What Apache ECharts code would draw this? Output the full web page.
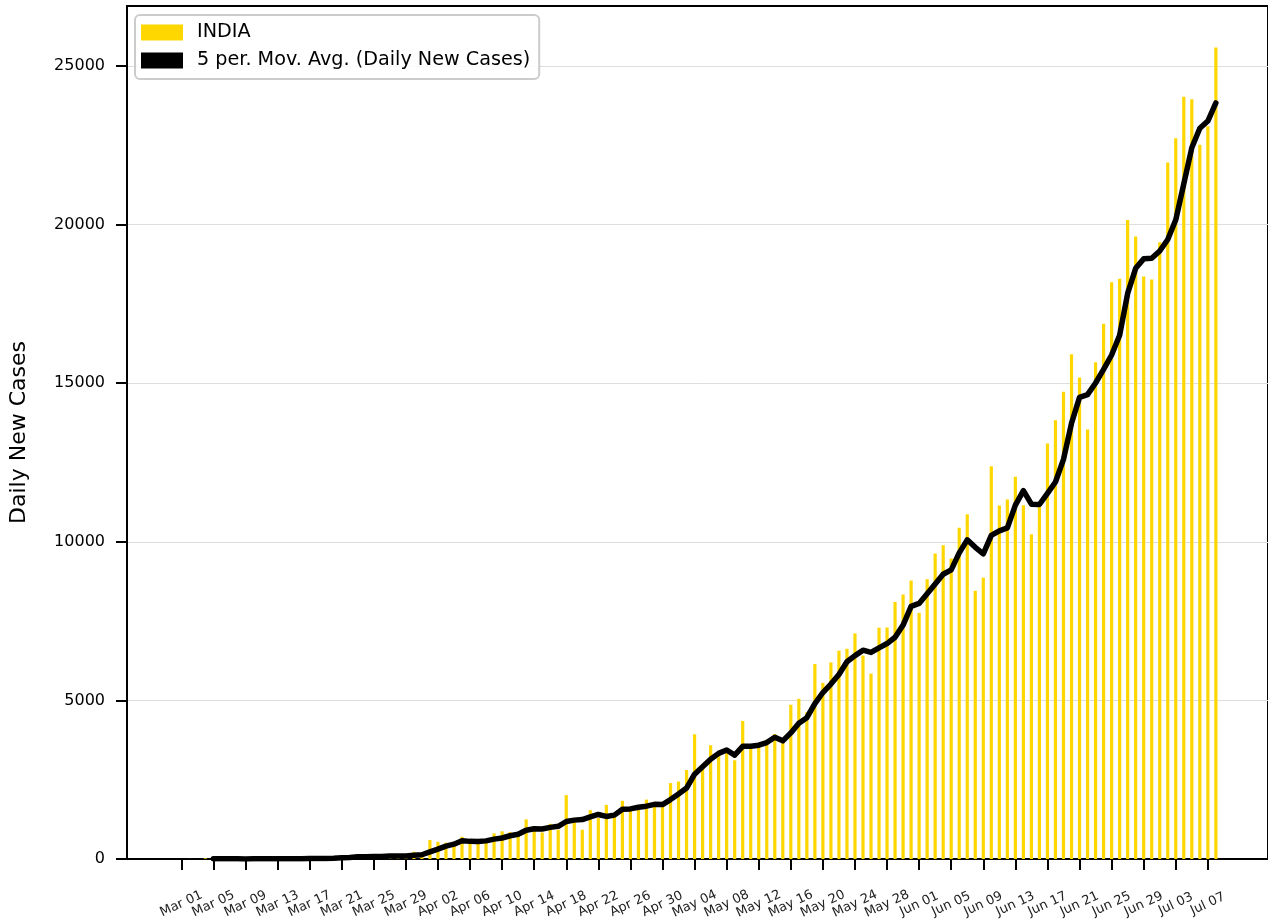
<!DOCTYPE html>
<html>
<head>
<meta charset="utf-8">
<script src="https://cdn.jsdelivr.net/npm/echarts@6/dist/echarts.min.js"></script>
<style>
html, body { margin: 0; padding: 0; background: #fff; }
#main { width: 1268px; height: 923px; }
</style>
</head>
<body>
<div id="main"></div>
<script>
// daily new cases, India, Mar 01 .. Jul 08
var marCases = [0, 2, 1, 22, 2, 1, 3, 5, 4, 13, 6, 11, 9, 20, 11, 6, 23, 14, 38, 50,
                86, 66, 103, 37, 121, 70, 160, 100, 37, 227, 146];
var aprCases = [601, 545, 515, 530, 701, 489, 533, 605, 809, 873, 848, 759, 1248, 1034, 835,
                1108, 922, 2013, 1250, 924, 1541, 1290, 1707, 1453, 1835, 1607, 1561, 1873, 1738, 1801];
var mayCases = [2394, 2442, 2806, 3932, 2963, 3587, 3364, 3344, 3113, 4353, 3607, 3524, 3763, 3942, 3787,
                4864, 5050, 4630, 6147, 5553, 6198, 6568, 6629, 7113, 6414, 5843, 7293, 7300, 8105, 8336, 8782];
var junCases = [7761, 8821, 9633, 9889, 9475, 10441, 10872, 8455, 8865, 12386, 11146, 11335, 12049, 11156, 10242,
                11100, 13100, 13836, 14730, 15917, 15181, 13542, 15665, 16874, 18185, 18290, 20147, 19622, 18363, 18269];
var julCases = [19444, 21962, 22727, 24028, 23955, 22518, 23100, 25581];

// x tick labels, one every 4 days starting Mar 01
var tickLabels = ['Mar 01', 'Mar 05', 'Mar 09', 'Mar 13', 'Mar 17', 'Mar 21', 'Mar 25', 'Mar 29',
                  'Apr 02', 'Apr 06', 'Apr 10', 'Apr 14', 'Apr 18', 'Apr 22', 'Apr 26', 'Apr 30',
                  'May 04', 'May 08', 'May 12', 'May 16', 'May 20', 'May 24', 'May 28',
                  'Jun 01', 'Jun 05', 'Jun 09', 'Jun 13', 'Jun 17', 'Jun 21', 'Jun 25', 'Jun 29',
                  'Jul 03', 'Jul 07'];
var yTicks = [0, 5000, 10000, 15000, 20000, 25000];

var daily = marCases.concat(aprCases, mayCases, junCases, julCases);
var tickPos = tickLabels.map(function(_, i) { return i * 4; });

// 5 period moving average (first 4 days have none)
var movAvg = [];
for (var i = 4; i < daily.length; i++) {
    var s = 0;
    for (var k = i - 4; k <= i; k++) s += daily[k];
    movAvg.push([i, s / 5]);
}

var font = 'DejaVu Sans';
var chart = echarts.init(document.getElementById('main'));
chart.setOption({
    animation: false,
    grid: {
        left: 125, top: 6, right: -3, bottom: 64,
        show: true, borderColor: '#000', borderWidth: 2, backgroundColor: 'transparent'
    },
    legend: {
        orient: 'vertical',
        left: 135, top: 15,
        padding: [8, 9, 9, 6],
        itemWidth: 42, itemHeight: 16, itemGap: 9,
        backgroundColor: 'rgba(255,255,255,0.85)',
        borderColor: '#cccccc', borderWidth: 2, borderRadius: 5,
        textStyle: { fontFamily: font, fontSize: 19.2, color: '#000', padding: [0, 0, 0, 9] },
        data: [
            { name: 'INDIA', icon: 'rect', itemStyle: { color: '#FFD700' } },
            { name: '5 per. Mov. Avg. (Daily New Cases)', icon: 'rect', itemStyle: { color: '#000' } }
        ]
    },
    xAxis: {
        type: 'value',
        min: -6.77, max: 135.5,
        splitLine: { show: false },
        axisLine: { onZero: false, lineStyle: { color: '#000', width: 2 } },
        axisTick: { customValues: tickPos, length: 11, lineStyle: { color: '#000', width: 2 } },
        axisLabel: {
            customValues: tickPos,
            rotate: 25, align: 'center', verticalAlign: 'middle', margin: 45,
            fontFamily: font, fontSize: 13, color: '#222',
            formatter: function(v) { return tickLabels[Math.round(v / 4)]; }
        }
    },
    yAxis: {
        type: 'value',
        min: 0, max: 26893,
        name: 'Daily New Cases', nameLocation: 'middle', nameGap: 97,
        nameTextStyle: { fontFamily: font, fontSize: 22, color: '#000' },
        axisLine: { show: true, onZero: false, lineStyle: { color: '#000', width: 2 } },
        axisTick: { customValues: yTicks, length: 11, lineStyle: { color: '#000', width: 2 } },
        axisLabel: {
            customValues: yTicks, fontFamily: font, fontSize: 16, color: '#000', margin: 22,
            formatter: function(v) { return String(v); }
        },
        splitLine: { lineStyle: { color: '#dddddd', width: 1 } },
        interval: 5000
    },
    series: [
        {
            name: 'INDIA',
            type: 'bar',
            barWidth: 3.2,
            itemStyle: { color: '#FFD700' },
            data: daily.map(function(v, i) { return [i, v]; }),
            z: 2
        },
        {
            name: '5 per. Mov. Avg. (Daily New Cases)',
            type: 'line',
            showSymbol: false,
            lineStyle: { color: '#000', width: 5.5, cap: 'round', join: 'round' },
            itemStyle: { color: '#000' },
            data: movAvg,
            z: 3
        }
    ]
});
</script>
</body>
</html>
